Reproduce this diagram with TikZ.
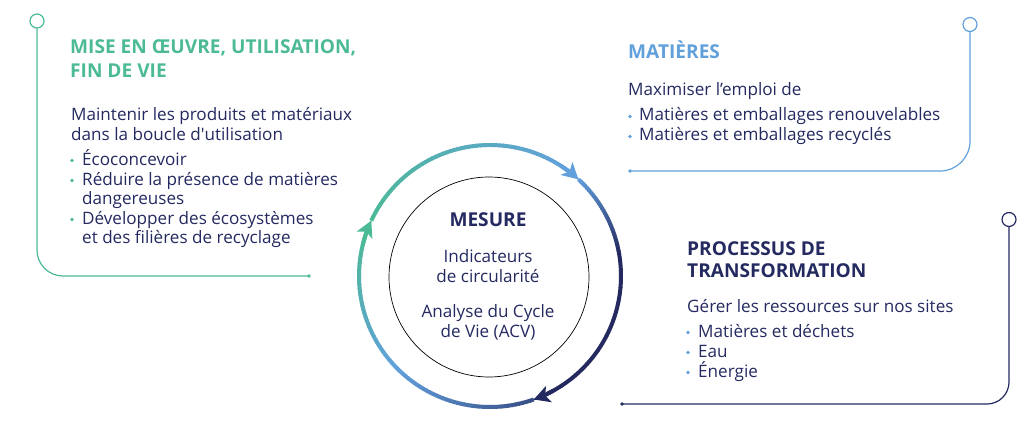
\documentclass[tikz,border=0pt]{standalone}
\usepackage{fontspec}
\setmainfont{Open Sans}
\usetikzlibrary{arrows.meta}
\definecolor{cgreen}{RGB}{76,186,150}
\definecolor{cblue}{RGB}{98,160,220}
\definecolor{cnavy}{RGB}{36,42,96}
\newcommand\gradarc[5]{%
  \foreach \i in {1,...,#5}{%
    \pgfmathsetmacro\sa{#1+(#2-#1)*(\i-1)/#5}%
    \pgfmathsetmacro\ea{#1+(#2-#1)*\i/#5+0.4}%
    \pgfmathsetmacro\pc{100*(\i-0.5)/#5}%
    \draw[ringline, color=#4!\pc!#3] ([shift={(490,276)}]\sa:131) arc[start angle=\sa, end angle=\ea, radius=131];
  }}
\begin{document}
\begin{tikzpicture}[x=1pt,y=-1pt,
  txt/.style={anchor=base west, inner sep=0pt, text=cnavy, font=\fontsize{17.1}{19}\selectfont},
  ctxt/.style={anchor=base, inner sep=0pt, text=cnavy, font=\fontsize{17.1}{19}\selectfont},
  ttl/.style={anchor=base west, inner sep=0pt, font=\fontsize{19.1}{22}\selectfont\bfseries},
  bul/.style={circle, fill, inner sep=0pt, minimum size=3.8pt},
  ring/.style={circle, draw, line width=1.2pt, minimum size=14pt, inner sep=0pt, fill=white},
  bracket/.style={line width=1.2pt},
  ringline/.style={line width=4pt},
  tip/.style={ringline, -{Stealth[length=16pt,width=17pt,inset=4pt]}}
]
\useasboundingbox (0,0) rectangle (1033,425);

% ---- brackets ----
\node[ring, draw=cgreen] (rg) at (37,21) {};
\coordinate (eg) at (309,276);
\draw[bracket, cgreen, rounded corners=26pt] (rg.south) |- (eg);
\fill[cgreen] (eg) circle (1.8);

\node[ring, draw=cblue] (rb) at (970,24.5) {};
\coordinate (eb) at (630,171);
\draw[bracket, cblue, rounded corners=30pt] (rb.south) |- (eb);
\fill[cblue] (eb) circle (1.8);

\node[ring, draw=cnavy] (rn) at (1009,219.5) {};
\coordinate (en) at (622,404);
\draw[bracket, cnavy, rounded corners=22pt] (rn.south) |- (en);
\fill[cnavy] (en) circle (1.8);

% ---- centre ----
\node[circle, draw=black, line width=0.7pt, minimum size=200pt, inner sep=0pt] (inner) at (489,277) {};

\gradarc{-155}{-54}{cgreen}{cblue}{60}
\draw[tip, cblue] ([shift={(490,276)}]-57:131) arc[start angle=-57, end angle=-47.5, radius=131];

\gradarc{-47.5}{-10}{cblue}{cnavy}{30}
\gradarc{-10}{64}{cnavy}{cnavy}{10}
\draw[tip, cnavy] ([shift={(490,276)}]61:131) arc[start angle=61, end angle=70.5, radius=131];

\gradarc{70.5}{135}{cnavy!70!cblue}{cblue}{40}
\gradarc{135}{198}{cblue}{cgreen}{40}
\draw[tip, cgreen] ([shift={(490,276)}]195:131) arc[start angle=195, end angle=205, radius=131];

\node[ctxt, font=\fontsize{19.1}{22}\selectfont\bfseries] (m0) at (488,226) {MESURE};
\node[ctxt] (m1) at (488,262) {Indicateurs};
\node[ctxt] (m2) at (488,282) {de circularité};
\node[ctxt] (m3) at (488,317) {Analyse du Cycle};
\node[ctxt] (m4) at (488,337) {de Vie (ACV)};

% ---- left block ----
\node[ttl, text=cgreen] (l0) at (70,54) {MISE EN ŒUVRE, UTILISATION,};
\node[ttl, text=cgreen] (l1) at (70,78) {FIN DE VIE};
\node[txt] (l2) at (71,121) {Maintenir les produits et matériaux};
\node[txt] (l3) at (71,140) {dans la boucle d\textquotesingle utilisation};
\node[bul, cgreen] (lb1) at (72,160.5) {};
\node[txt] (l4) at (82,165) {Écoconcevoir};
\node[bul, cgreen] (lb2) at (72,180.5) {};
\node[txt] (l5) at (82,185) {Réduire la présence de matières};
\node[txt] (l6) at (82,204) {dangereuses};
\node[bul, cgreen] (lb3) at (72,219.5) {};
\node[txt] (l7) at (82,224) {Développer des écosystèmes};
\node[txt] (l8) at (82,243) {et des filières de recyclage};

% ---- top right block ----
\node[ttl, text=cblue] (r0) at (628,59) {MATIÈRES};
\node[txt] (r1) at (628,96) {Maximiser l’emploi de};
\node[bul, cblue] (rb1) at (630,116.5) {};
\node[txt] (r2) at (639,121) {Matières et emballages renouvelables};
\node[bul, cblue] (rb2) at (630,136.5) {};
\node[txt] (r3) at (639,141) {Matières et emballages recyclés};

% ---- bottom right block ----
\node[ttl, text=cnavy] (p0) at (687,255) {PROCESSUS DE};
\node[ttl, text=cnavy] (p1) at (687,277) {TRANSFORMATION};
\node[txt] (p2) at (687,312) {Gérer les ressources sur nos sites};
\node[bul, cblue] (pb1) at (688,332.5) {};
\node[txt] (p3) at (698,337) {Matières et déchets};
\node[bul, cblue] (pb2) at (688,352.5) {};
\node[txt] (p4) at (698,357) {Eau};
\node[bul, cblue] (pb3) at (688,372.5) {};
\node[txt] (p5) at (698,377) {Énergie};
\end{tikzpicture}
\end{document}
